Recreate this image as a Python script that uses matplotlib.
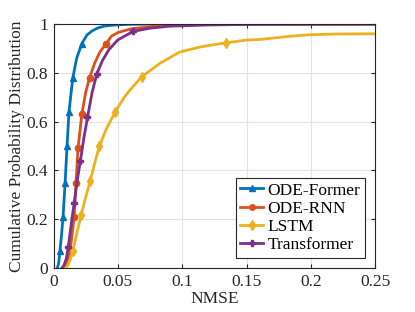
import matplotlib
matplotlib.use('Agg')
import matplotlib.pyplot as plt
from matplotlib.lines import Line2D

plt.rcParams['font.family'] = ['Liberation Serif', 'DejaVu Serif']
plt.rcParams['mathtext.fontset'] = 'stix'

# ODE-Former
former_x = [0.003, 0.004, 0.005, 0.0063, 0.0074, 0.009, 0.0105, 0.012, 0.015, 0.018, 0.022,
            0.026, 0.03, 0.035, 0.04, 0.05, 0.06, 0.08, 0.12, 0.25]
former_y = [0.0, 0.02, 0.07, 0.14, 0.21, 0.35, 0.50, 0.64, 0.78, 0.86, 0.92,
            0.955, 0.972, 0.985, 0.992, 0.997, 0.999, 1.0, 1.0, 1.0]
former_mx = [0.005, 0.0074, 0.009, 0.0105, 0.012, 0.015, 0.022]
former_my = [0.07, 0.21, 0.35, 0.50, 0.64, 0.78, 0.92]

# ODE-RNN
rnn_x = [0.007, 0.009, 0.011, 0.0128, 0.0145, 0.016, 0.0175, 0.019, 0.022, 0.025, 0.028,
         0.032, 0.036, 0.041, 0.045, 0.05, 0.06, 0.08, 0.1, 0.13, 0.25]
rnn_y = [0.0, 0.01, 0.035, 0.07, 0.14, 0.21, 0.35, 0.49, 0.63, 0.72, 0.78,
         0.84, 0.885, 0.92, 0.95, 0.965, 0.98, 0.992, 0.997, 0.999, 1.0]
rnn_mx = [0.0128, 0.016, 0.0175, 0.019, 0.022, 0.028, 0.041]
rnn_my = [0.07, 0.21, 0.35, 0.49, 0.63, 0.78, 0.92]

# LSTM
lstm_x = [0.009, 0.011, 0.013, 0.015, 0.018, 0.0214, 0.025, 0.0284, 0.032, 0.0357, 0.041,
          0.048, 0.055, 0.0595, 0.0686, 0.083, 0.098, 0.114, 0.134, 0.150, 0.161, 0.184,
          0.199, 0.22, 0.25]
lstm_y = [0.0, 0.01, 0.035, 0.07, 0.14, 0.216, 0.29, 0.355, 0.43, 0.5, 0.57,
          0.64, 0.70, 0.73, 0.784, 0.84, 0.885, 0.906, 0.923, 0.934, 0.937, 0.95,
          0.956, 0.959, 0.96]
lstm_mx = [0.015, 0.0214, 0.0284, 0.0357, 0.048, 0.0686, 0.134]
lstm_my = [0.07, 0.216, 0.355, 0.5, 0.64, 0.784, 0.923]

# Transformer
trans_x = [0.0065, 0.008, 0.010, 0.0115, 0.0135, 0.016, 0.0185, 0.0209, 0.0235, 0.0264, 0.030,
           0.0336, 0.038, 0.043, 0.05, 0.062, 0.075, 0.09, 0.12, 0.16, 0.25]
trans_y = [0.0, 0.01, 0.04, 0.087, 0.17, 0.265, 0.36, 0.44, 0.53, 0.617, 0.72,
           0.795, 0.85, 0.895, 0.935, 0.97, 0.983, 0.991, 0.996, 0.999, 1.0]
trans_mx = [0.0115, 0.016, 0.0209, 0.0264, 0.0336, 0.062]
trans_my = [0.087, 0.265, 0.44, 0.617, 0.795, 0.97]

x_ticks = [0, 0.05, 0.1, 0.15, 0.2, 0.25]
x_labels = ['0', '0.05', '0.1', '0.15', '0.2', '0.25']
y_ticks = [0, 0.2, 0.4, 0.6, 0.8, 1]
y_labels = ['0', '0.2', '0.4', '0.6', '0.8', '1']

series = [
    ('ODE-Former', former_x, former_y, former_mx, former_my, '#0072BD', '^', 5),
    ('ODE-RNN', rnn_x, rnn_y, rnn_mx, rnn_my, '#D95319', 'o', 4.5),
    ('LSTM', lstm_x, lstm_y, lstm_mx, lstm_my, '#EDB120', 'd', 5.5),
    ('Transformer', trans_x, trans_y, trans_mx, trans_my, '#7E2F8E', 'P', 5),
]

fig = plt.figure(figsize=(4.15, 3.12), dpi=100)
ax = fig.add_axes([0.129, 0.141, 0.775, 0.782])

handles = []
for name, x, y, mx, my, c, m, ms in series:
    ax.plot(x, y, color=c, lw=2)
    ax.plot(mx, my, ls='none', marker=m, color=c, ms=ms)
    handles.append(Line2D([], [], color=c, lw=2, marker=m, ms=ms - 0.5, label=name))

ax.set_xlim(0, 0.25)
ax.set_ylim(0, 1)
ax.set_xticks(x_ticks)
ax.set_xticklabels(x_labels)
ax.set_yticks(y_ticks)
ax.set_yticklabels(y_labels)
ax.grid(True, color='#e3e3e3', lw=0.8)
ax.set_axisbelow(True)
ax.tick_params(direction='in', labelsize=12.5, colors='#262626', length=3,
               top=True, right=True, pad=4)
for s in ax.spines.values():
    s.set_color('#262626')
    s.set_linewidth(0.8)
ax.set_xlabel('NMSE', fontsize=12.5, color='#262626', labelpad=1)
ax.set_ylabel('Cumulative Probability Distribution', fontsize=12.5, color='#262626', labelpad=1)

leg = ax.legend(handles=handles, loc='lower right', fontsize=12.5, fancybox=False,
                edgecolor='#262626', framealpha=1, handlelength=1.35, borderpad=0.25,
                labelspacing=0.12, handletextpad=0.25, borderaxespad=0.6)
leg.get_frame().set_linewidth(0.8)

fig.savefig('out.png', dpi=100)
